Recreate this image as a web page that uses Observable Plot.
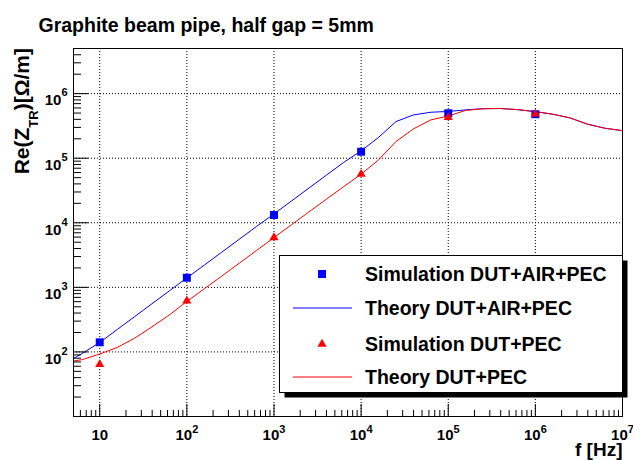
<!DOCTYPE html>
<html><head><meta charset="utf-8">
<script src="https://cdn.jsdelivr.net/npm/d3@7"></script>
<script src="https://cdn.jsdelivr.net/npm/@observablehq/plot@0.6"></script>
<style>
body{margin:0;background:#fff;}
#wrap{position:relative;width:633px;height:460px;}
svg{display:block;}
</style></head><body><div id="wrap"></div>
<script>
// ---- data ----
const simFreq = [10, 100, 1000, 1e4, 1e5, 1e6];
const simAirPec = [141, 1410, 13200, 126000, 497000, 480000];
const simPec = [64, 620, 5900, 56500, 430000, 485000];

const theoryFreq = [3.98, 6.31, 10, 15.85, 25.12, 39.81, 63.1, 100, 158.5, 251.2, 398.1, 631,
  1000, 1585, 2512, 3981, 6310, 1e4, 15850, 25120, 39810, 63100, 1e5, 158500, 251200, 398100, 631000,
  1e6, 1585000, 2512000, 3981000, 6310000, 1e7];
const theoryAirPec = [66, 95, 140, 222, 352, 558, 884, 1400, 2210, 3500, 5540, 8780,
  13700, 21700, 34400, 54500, 86000, 130000, 210000, 369000, 468000, 515000, 530000, 560000, 584000, 588000, 565000,
  526000, 480000, 420000, 336000, 291000, 267000];
const theoryPec = [69, 76, 93, 117, 163, 245, 375, 605, 950, 1490, 2360, 3730,
  5900, 9300, 14700, 23100, 36300, 56500, 94000, 181000, 284000, 392000, 450000, 550000, 584000, 588000, 565000,
  526000, 480000, 420000, 336000, 291000, 267000];

const xMajor = [10, 100, 1e3, 1e4, 1e5, 1e6, 1e7];
const xTickLabels = ["10", "10^2", "10^3", "10^4", "10^5", "10^6", "10^7"];
const yMajor = [100, 1e3, 1e4, 1e5, 1e6];
const yTickLabels = ["10^2", "10^3", "10^4", "10^5", "10^6"];
const xGrid = [10, 100, 1e3, 1e4, 1e5, 1e6];
const yGrid = [100, 1e3, 1e4, 1e5, 1e6];

const titleText = "Graphite beam pipe, half gap = 5mm";
const legendLabels = ["Simulation DUT+AIR+PEC", "Theory DUT+AIR+PEC", "Simulation DUT+PEC", "Theory DUT+PEC"];

// minor ticks (axis structure)
const xMinor = [], yMinor = [];
for (let e = 0; e <= 6; e++) for (let m = 2; m <= 9; m++) { const v = m * 10 ** e; if (v > 5 && v < 1e7) xMinor.push(v); }
for (let e = 1; e <= 6; e++) for (let m = 2; m <= 9; m++) { const v = m * 10 ** e; if (v < 5e6) yMinor.push(v); }

const simRows = simFreq.map((f, i) => ({f, air: simAirPec[i], pec: simPec[i]}));
const theoryRows = theoryFreq.map((f, i) => ({f, air: theoryAirPec[i], pec: theoryPec[i]}));

const BLUE = "#0000ff", RED = "#ff0000";
const FONT = '"Liberation Sans", Arial, Helvetica, sans-serif';

const chart = Plot.plot({
  width: 633, height: 460,
  marginLeft: 73, marginRight: 11, marginTop: 48, marginBottom: 44,
  style: {fontFamily: FONT, background: "#fff", color: "#000", overflow: "visible"},
  x: {type: "log", domain: [5, 1e7]},
  y: {type: "log", domain: [10, 5e6]},
  marks: [
    Plot.ruleX(xGrid, {stroke: "#000", strokeDasharray: "1,2", strokeWidth: 1}),
    Plot.ruleY(yGrid, {stroke: "#000", strokeDasharray: "1,2", strokeWidth: 1}),
    Plot.line(theoryRows, {x: "f", y: "air", stroke: BLUE, strokeWidth: 1, clip: true}),
    Plot.line(theoryRows, {x: "f", y: "pec", stroke: RED, strokeWidth: 1, clip: true}),
    Plot.dot(simRows, {x: "f", y: "air", symbol: "square", fill: BLUE, stroke: "none", r: 4.5}),
    Plot.dot(simRows, {x: "f", y: "pec", symbol: "triangle", fill: RED, stroke: "none", r: 3.4}),
    Plot.frame({stroke: "#000", strokeWidth: 1}),
    Plot.axisX(xMinor, {anchor: "bottom", tickSize: -6, tickFormat: () => "", label: null}),
    Plot.axisX(xMajor, {anchor: "bottom", tickSize: -12, tickFormat: () => "", label: null}),
    Plot.axisX(xMajor, {anchor: "bottom", tickSize: 0, tickPadding: 13, label: null,
      tickFormat: d => xTickLabels[xMajor.indexOf(d)], fontSize: 15, fontWeight: "bold"}),
    Plot.axisY(yMinor, {anchor: "left", tickSize: -8, tickFormat: () => "", label: null}),
    Plot.axisY(yMajor, {anchor: "left", tickSize: -15, tickFormat: () => "", label: null}),
    Plot.axisY(yMajor, {anchor: "left", tickSize: 0, tickPadding: 6, dy: 7, label: null,
      tickFormat: d => yTickLabels[yMajor.indexOf(d)], fontSize: 15, fontWeight: "bold"}),
    Plot.text([titleText], {frameAnchor: "top-left", dx: -35, dy: -30, textAnchor: "start",
      fontSize: 19.5, fontWeight: "bold"}),
    Plot.text(["f [Hz]"], {frameAnchor: "bottom-right", dy: 39, textAnchor: "end",
      fontSize: 19, fontWeight: "bold"})
  ]
});
document.getElementById("wrap").appendChild(chart);

const svg = d3.select(chart);
svg.selectAll("text").style("font-weight", "bold");

// superscript exponents
function sup(sel, supSize, shift) {
  sel.each(function () {
    const t = this.textContent;
    if (!t || t.indexOf("^") < 0) return;
    const [b, e] = t.split("^");
    const el = d3.select(this);
    el.text(null);
    el.append("tspan").text(b);
    el.append("tspan").attr("font-size", supSize).attr("dy", -shift).text(e);
  });
}
sup(svg.selectAll('g[aria-label="x-axis tick label"] text'), 11, 7);
sup(svg.selectAll('g[aria-label="y-axis tick label"] text'), 11, 9);

// y-axis title with subscript
const yt = svg.append("text")
  .attr("transform", "translate(28.5,48) rotate(-90)")
  .attr("text-anchor", "end")
  .attr("font-family", FONT).attr("font-weight", "bold").attr("font-size", 21).attr("fill", "#000");
yt.append("tspan").text("Re(Z");
yt.append("tspan").attr("font-size", 13).attr("dy", 9).text("TR");
yt.append("tspan").attr("dy", -9).text(")[Ω/m]");

// legend
const L = {x: 279.5, y: 255.5, w: 343, h: 137};
const lg = svg.append("g").attr("text-anchor", "start");
lg.append("rect").attr("x", L.x + 5).attr("y", L.y + 5).attr("width", L.w).attr("height", L.h).attr("fill", "#000");
lg.append("rect").attr("x", L.x).attr("y", L.y).attr("width", L.w).attr("height", L.h)
  .attr("fill", "#fff").attr("stroke", "#000").attr("stroke-width", 1);
const rowsY = [274, 308, 344, 377];
const mx = 322;
lg.append("path").attr("d", d3.symbol(d3.symbolSquare, Math.PI * 4.5 * 4.5)())
  .attr("transform", `translate(${mx},${rowsY[0]})`).attr("fill", BLUE);
lg.append("line").attr("x1", 293).attr("x2", 352).attr("y1", rowsY[1]).attr("y2", rowsY[1]).attr("stroke", BLUE);
lg.append("path").attr("d", d3.symbol(d3.symbolTriangle, Math.PI * 3.4 * 3.4)())
  .attr("transform", `translate(${mx},${rowsY[2]})`).attr("fill", RED);
lg.append("line").attr("x1", 293).attr("x2", 352).attr("y1", rowsY[3]).attr("y2", rowsY[3]).attr("stroke", RED);
legendLabels.forEach((s, i) => {
  lg.append("text").attr("x", 365).attr("y", rowsY[i]).attr("dy", "0.36em").attr("text-anchor", "start")
    .attr("font-family", FONT).attr("font-weight", "bold").attr("font-size", 19.5).attr("fill", "#000").text(s);
});
</script></body></html>
